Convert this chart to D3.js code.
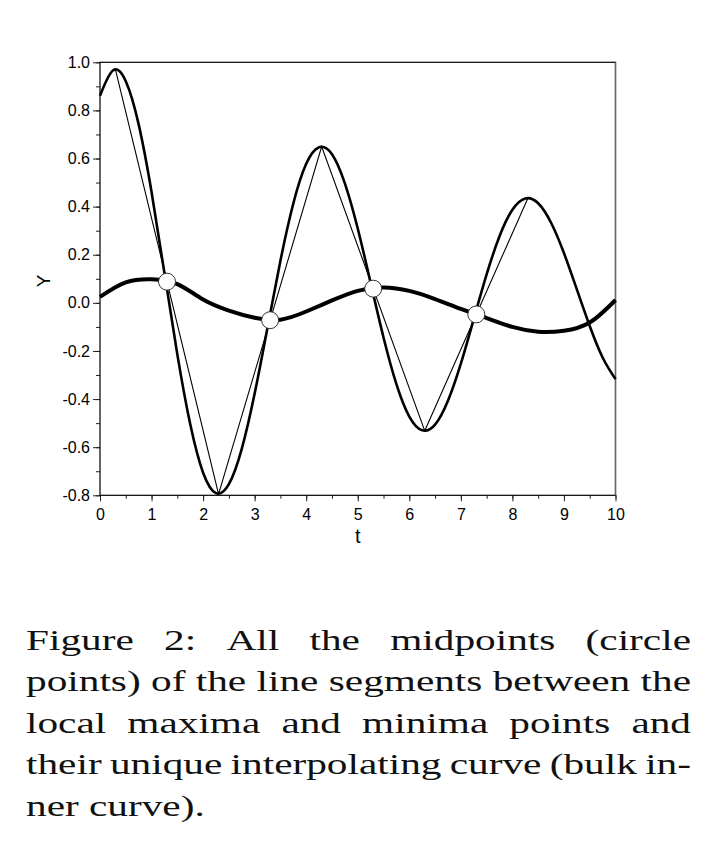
<!doctype html>
<html lang="en">
<head>
<meta charset="utf-8">
<title>Figure 2</title>
<script src="https://d3js.org/d3.v7.min.js"></script>
<style>
  body { margin: 0; background: #fff; }
  #chart { display: block; }
</style>
</head>
<body>
<svg id="chart" width="721" height="854"></svg>
<script>
// damped oscillation, every 0.25 in t
var curveT = [0,0.25,0.5,0.75,1,1.25,1.5,1.75,2,2.25,2.5,2.75,3,3.25,3.5,3.75,4,4.25,4.5,4.75,
  5,5.25,5.5,5.75,6,6.25,6.5,6.75,7,7.25,7.5,7.75,8,8.25,8.5,8.75,9,9.25,9.5,9.75,10];
var curveY = [0.861,0.966,0.921,0.742,0.461,0.124,-0.214,-0.504,-0.706,-0.791,-0.754,-0.607,-0.377,-0.102,
  0.175,0.413,0.578,0.647,0.618,0.497,0.309,0.083,-0.144,-0.338,-0.473,-0.530,-0.506,-0.407,-0.253,
  -0.068,0.118,0.277,0.387,0.434,0.414,0.333,0.207,0.056,-0.096,-0.227,-0.317];

// local maxima / minima joined by thin segments
var extT = [0.3, 2.3, 4.3, 6.3, 8.3];
var extY = [0.97, -0.795, 0.65, -0.532, 0.435];

// midpoints of those segments (circles)
var midT = [1.3, 3.3, 5.3, 7.3];
var midY = [0.088, -0.072, 0.059, -0.048];

// interpolating "bulk" curve through the midpoints
var innerT = [0,0.5,1,1.5,2,2.5,3,3.5,4,4.5,5,5.5,6,6.5,7,7.5,8,8.5,9,9.5,10];
var innerY = [0.025,0.085,0.098,0.078,0.014,-0.032,-0.062,-0.070,-0.036,0.010,0.050,0.064,0.050,
  0.016,-0.025,-0.063,-0.100,-0.120,-0.116,-0.082,0.012];

var xTicks = [0,1,2,3,4,5,6,7,8,9,10];
var yTicks = [-0.8,-0.6,-0.4,-0.2,0,0.2,0.4,0.6,0.8,1.0];

var caption = [
  "Figure 2:  All the midpoints (circle",
  "points) of the line segments between the",
  "local maxima and minima points and",
  "their unique interpolating curve (bulk in-",
  "ner curve)."
];

var svg = d3.select("#chart");
var pLeft = 100, pRight = 615.5, pTop = 62.3, pBottom = 495.3;

var x = d3.scaleLinear().domain([0, 10]).range([pLeft, pRight]);
var y = d3.scaleLinear().domain([-0.8, 1.0]).range([pBottom, pTop]);

// minor ticks first, then major ticks with labels
var xMinor = d3.range(0, 10.01, 0.5);
var yMinor = d3.range(-0.8, 1.001, 0.1);

svg.append("g").attr("transform", "translate(0," + pBottom + ")")
  .call(d3.axisBottom(x).tickValues(xMinor).tickSize(3.5).tickFormat(""))
  .call(function(g){ g.select(".domain").remove(); });
svg.append("g").attr("transform", "translate(" + pLeft + ",0)")
  .call(d3.axisLeft(y).tickValues(yMinor).tickSize(4).tickFormat(""))
  .call(function(g){ g.select(".domain").remove(); });

var gx = svg.append("g").attr("transform", "translate(0," + pBottom + ")")
  .call(d3.axisBottom(x).tickValues(xTicks).tickSize(6).tickPadding(7)
    .tickFormat(function(d){ return String(d); }));
gx.select(".domain").remove();

var gy = svg.append("g").attr("transform", "translate(" + pLeft + ",0)")
  .call(d3.axisLeft(y).tickValues(yTicks).tickSize(7).tickPadding(3)
    .tickFormat(function(d){ return d.toFixed(1); }));
gy.select(".domain").remove();

svg.selectAll(".tick text")
  .attr("font-family", "'Liberation Sans', Arial, sans-serif")
  .attr("font-size", 16).attr("fill", "#000");
svg.selectAll(".tick line").attr("stroke", "#222");

// frame: black left/top/bottom, greyish right edge as in the original
svg.append("rect")
  .attr("x", pLeft).attr("y", pTop)
  .attr("width", pRight - pLeft).attr("height", pBottom - pTop)
  .attr("fill", "none").attr("stroke", "#000").attr("stroke-width", 1.2);
svg.append("line")
  .attr("x1", pRight).attr("x2", pRight)
  .attr("y1", pTop).attr("y2", pBottom)
  .attr("stroke", "#666").attr("stroke-width", 1.4);

// axis titles
svg.append("text")
  .attr("x", x(5)).attr("y", 543)
  .attr("text-anchor", "middle")
  .attr("font-family", "'Liberation Sans', Arial, sans-serif")
  .attr("font-size", 20)
  .text("t");
svg.append("text")
  .attr("transform", "translate(50,281) rotate(-90)")
  .attr("text-anchor", "middle")
  .attr("font-family", "'Liberation Sans', Arial, sans-serif")
  .attr("font-size", 19)
  .text("Y");

var plot = svg.append("g");

var line = d3.line()
  .x(function(d){ return x(d[0]); })
  .y(function(d){ return y(d[1]); });
var smooth = d3.line().curve(d3.curveNatural)
  .x(function(d){ return x(d[0]); })
  .y(function(d){ return y(d[1]); });

plot.append("path")
  .datum(d3.zip(curveT, curveY))
  .attr("d", smooth)
  .attr("fill", "none").attr("stroke", "#000").attr("stroke-width", 2.6);

plot.append("path")
  .datum(d3.zip(extT, extY))
  .attr("d", line)
  .attr("fill", "none").attr("stroke", "#000").attr("stroke-width", 1.1);

plot.append("path")
  .datum(d3.zip(innerT, innerY))
  .attr("d", smooth)
  .attr("fill", "none").attr("stroke", "#000").attr("stroke-width", 4);

plot.selectAll("circle")
  .data(d3.zip(midT, midY))
  .enter().append("circle")
  .attr("cx", function(d){ return x(d[0]); })
  .attr("cy", function(d){ return y(d[1]); })
  .attr("r", 8.5)
  .attr("fill", "#fff").attr("stroke", "#333").attr("stroke-width", 1);

// caption: widen the serif face so the tightest line fits, then justify each line
var capLeft = 26, capRight = 691, capTop = 650, capStep = 41.5;
var cap = svg.append("g")
  .attr("font-family", "'Liberation Serif', 'Times New Roman', serif")
  .attr("font-size", 30)
  .attr("fill", "#111");

var probe = cap.append("text").text(caption[1]);
var sx = (capRight - capLeft) / probe.node().getComputedTextLength();
probe.remove();
cap.attr("transform", "translate(" + capLeft + ",0) scale(" + sx + ",1)");
var W = (capRight - capLeft) / sx;

caption.forEach(function(str, i){
  var by = capTop + i * capStep;
  if (i === caption.length - 1) {
    cap.append("text").attr("x", 0).attr("y", by).text(str);
    return;
  }
  var words = str.split(/\s+/);
  var nodes = words.map(function(w){
    return cap.append("text").attr("y", by).text(w);
  });
  var widths = nodes.map(function(n){ return n.node().getComputedTextLength(); });
  var gap = (W - d3.sum(widths)) / (words.length - 1);
  var cx = 0;
  nodes.forEach(function(n, k){
    n.attr("x", cx);
    cx += widths[k] + gap;
  });
});
</script>
</body>
</html>
